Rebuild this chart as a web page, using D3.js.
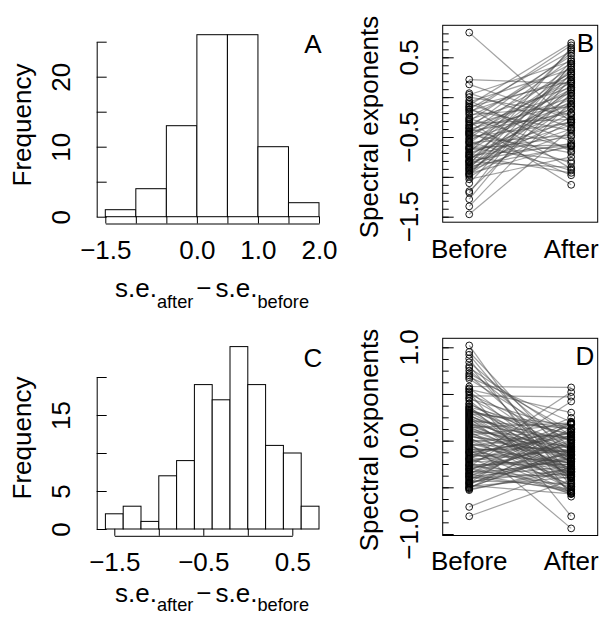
<!DOCTYPE html>
<html>
<head>
<meta charset="utf-8">
<script src="https://cdn.jsdelivr.net/npm/d3@7"></script>
<style>
  body { margin: 0; background: #fff; }
  svg text { font-family: "Liberation Sans", Arial, Helvetica, sans-serif; fill: #000; }
</style>
</head>
<body>
<svg id="fig" width="599" height="617"></svg>
<script>
// ---- Histogram A: change in spectral exponent (first condition) ----
const binEdgesA = [-1.5, -1.0, -0.5, 0.0, 0.5, 1.0, 1.5, 2.0];
const countsA   = [1, 4, 13, 26, 26, 10, 2];
const xTicksA   = [-1.5, -1.0, -0.5, 0.0, 0.5, 1.0, 1.5, 2.0];
const xLabelsA  = ["−1.5", "", "", "0.0", "", "1.0", "", "2.0"];
const yTicksA   = [0, 5, 10, 15, 20, 25];
const yLabelsA  = ["0", "", "10", "", "20", ""];

// ---- Histogram C: change in spectral exponent (second condition) ----
const binEdgesC = [-1.6, -1.4, -1.2, -1.0, -0.8, -0.6, -0.4, -0.2, 0.0, 0.2, 0.4, 0.6, 0.8];
const countsC   = [2, 3, 1, 7, 9, 19, 17, 24, 19, 11, 10, 3];
const xTicksC   = [-1.5, -1.0, -0.5, 0.0, 0.5];
const xLabelsC  = ["−1.5", "", "−0.5", "", "0.5"];
const yTicksC   = [0, 5, 10, 15, 20];
const yLabelsC  = ["0", "5", "", "15", ""];

// ---- Paired exponents B ----
const beforeB = [-1.20,-1.28,-1.47,-1.37,-1.18,-1.08,-0.98,-0.95,-0.90,-0.85,-0.80,-0.70,
  -1.00,-0.97,-0.93,-0.90,-0.88,-0.85,-0.82,-0.78,-0.75,-0.72,-0.68,-0.65,-0.62,-0.58,-0.55,
  -0.52,-0.48,-0.45,-0.42,-0.38,-0.35,-0.30,-0.25,-0.20,-0.15,-0.10,
  -1.03,-0.96,-0.92,-0.87,-0.83,-0.80,-0.76,-0.73,-0.70,-0.66,-0.63,-0.60,-0.57,-0.53,-0.50,
  -0.46,-0.43,-0.40,-0.36,-0.33,-0.28,-0.22,-0.18,-0.12,-0.06,0.03,
  0.22,0.16,0.05,0.00,-0.08,-0.16,-0.27,-0.39,-0.47,-0.56,-0.64,-0.74,-0.81,
  -0.04,-0.13,-0.31,-0.44,0.81];
const afterB = [0.42,0.25,-0.40,-0.05,0.05,0.30,0.40,0.12,0.45,0.62,0.35,0.60,
  -0.30,-0.10,0.02,-0.25,0.08,-0.20,0.10,-0.05,0.20,-0.15,0.15,0.28,-0.02,0.32,0.10,
  0.38,0.22,0.48,0.18,0.55,0.30,0.52,0.42,0.65,0.58,0.68,
  -0.75,-0.60,-0.45,-0.62,-0.40,-0.58,-0.35,-0.61,-0.30,-0.50,-0.60,-0.15,-0.48,-0.10,-0.32,
  0.00,-0.20,-0.08,0.05,-0.28,0.12,-0.12,0.25,0.20,0.35,0.45,
  0.17,-0.28,-0.38,-0.22,-0.55,-0.42,-0.65,-0.83,-0.70,-0.92,-0.80,-0.95,-0.88,
  -0.68,-0.90,-1.10,-0.98,-0.32];

// ---- Paired exponents D ----
const beforeD = [1.02,0.95,0.92,0.88,0.84,0.80,0.78,0.75,0.72,0.70,0.68,0.66,
  0.58,0.56,0.55,0.53,0.52,0.50,0.48,0.46,0.45,0.43,
  -0.71,-0.81,
  0.40,0.39,0.37,0.36,0.35,0.34,0.33,0.32,0.31,0.30,0.29,0.28,0.27,0.26,0.25,0.24,0.23,0.22,
  0.21,0.20,0.19,0.18,0.17,0.16,0.15,0.14,0.13,0.12,0.11,0.10,0.09,0.08,0.07,0.06,0.05,0.04,
  0.03,0.02,0.01,0.00,-0.01,-0.02,-0.03,-0.04,-0.05,-0.06,-0.07,-0.08,-0.09,-0.10,-0.11,-0.12,
  -0.13,-0.14,-0.15,-0.16,-0.17,-0.18,-0.19,-0.20,-0.21,-0.22,-0.23,-0.24,-0.25,-0.26,-0.27,
  -0.28,-0.29,-0.30,-0.31,-0.32,-0.33,-0.34,-0.35,-0.36,-0.37,-0.38,-0.39,-0.40,-0.41,-0.42,
  -0.43,-0.44,-0.45,-0.46,-0.47,-0.48,-0.49,-0.50,-0.51,-0.52,-0.53,
  -0.125,-0.265,-0.385,-0.305,-0.455,-0.195,-0.355,-0.505];
const afterD = [-0.50,-0.20,-0.38,-0.60,-0.08,-0.45,0.05,-0.12,0.10,-0.25,0.20,-0.02,
  0.57,-0.20,0.30,-0.33,-0.81,0.00,0.47,-0.15,0.12,-0.40,
  -0.28,-0.42,
  -0.22,-0.06,-0.55,0.06,-0.20,-0.36,-0.08,0.07,0.12,-0.22,0.17,-0.38,-0.19,-0.09,-0.33,-0.54,
  0.01,-0.22,0.13,-0.37,-0.12,-0.30,0.02,-0.22,-0.38,0.19,-0.14,-0.30,-0.07,-0.49,0.04,-0.25,
  -0.40,0.18,-0.16,-0.06,-0.52,-0.34,-0.13,-0.43,0.07,-0.94,-0.31,-0.10,-0.55,0.09,-0.24,-0.47,
  -0.11,-0.07,-0.56,-0.24,0.05,-0.38,-0.23,0.09,-0.11,-0.34,-0.57,0.52,-0.10,-0.26,0.09,-0.57,
  0.20,-0.25,-0.38,0.42,-0.15,-0.49,-0.04,0.18,-0.40,-0.25,0.01,-0.54,-0.20,0.04,-0.52,-0.36,
  -0.19,0.13,-0.46,-0.31,0.20,-0.16,0.00,-0.57,-0.39,-0.12,0.07,-0.33,-0.29,
  0.035,-0.195,-0.275,-0.025,-0.115,0.245,0.175,-0.095];

const conditions = ["Before", "After"];
const yLabelValsB = [-1.5, -0.5, 0.5];
const yLabelTextB = ["−1.5", "−0.5", "0.5"];
const yLabelValsD = [-1.0, 0.0, 1.0];
const yLabelTextD = ["−1.0", "0.0", "1.0"];

const FS = 26;      // main text size
const svg = d3.select("#fig");

// ---------- helpers ----------
function histogram(g, edges, counts, x, y) {
  g.selectAll("rect.bar").data(counts).join("rect")
    .attr("class", "bar")
    .attr("x", (d, i) => x(edges[i]))
    .attr("width", (d, i) => x(edges[i + 1]) - x(edges[i]))
    .attr("y", d => y(d))
    .attr("height", d => y(0) - y(d))
    .attr("fill", "#fff").attr("stroke", "#000").attr("stroke-width", 1);
}

function styleAxis(g) {
  g.attr("font-family", null).attr("font-size", null);
  g.selectAll("path, line").attr("stroke", "#000").attr("stroke-width", 1);
}

function xAxisHist(g, x, ticks, labels, yPos) {
  g.attr("transform", `translate(0,${yPos})`)
    .call(d3.axisBottom(x).tickValues(ticks).tickSizeInner(-7).tickSizeOuter(0)
      .tickFormat((d, i) => labels[i]))
    .call(styleAxis)
    .call(a => a.selectAll("text").attr("y", 35).attr("dy", null)
      .style("font-size", FS + "px"));
}

function yAxisHist(g, y, ticks, labels, xPos) {
  g.attr("transform", `translate(${xPos},0)`)
    .call(d3.axisLeft(y).tickValues(ticks).tickSizeInner(-10).tickSizeOuter(0)
      .tickFormat((d, i) => labels[i]))
    .call(styleAxis)
    .call(a => a.selectAll("text")
      .attr("x", null).attr("dy", null)
      .attr("text-anchor", "middle")
      .attr("transform", "translate(-27,0) rotate(-90)")
      .style("font-size", FS + "px"));
}

// axis title s.e._after − s.e._before with lowered subscripts
function xTitle(g, cx, baseline, drop) {
  const t = g.append("text").attr("x", cx).attr("y", baseline)
    .attr("text-anchor", "middle").style("font-size", FS + "px");
  t.append("tspan").text("s.e.");
  t.append("tspan").attr("dy", drop).style("font-size", (FS * 0.7) + "px").text("after");
  t.append("tspan").attr("dy", -drop).attr("dx", 3).text("−");
  t.append("tspan").attr("dx", 4).text("s.e.");
  t.append("tspan").attr("dy", drop).style("font-size", (FS * 0.7) + "px").text("before");
}

function rotLabel(g, text, x, y) {
  g.append("text").attr("transform", `translate(${x},${y}) rotate(-90)`)
    .attr("text-anchor", "middle").style("font-size", FS + "px").text(text);
}

function panelLetter(g, text, x, y) {
  g.append("text").attr("x", x).attr("y", y).attr("text-anchor", "middle")
    .style("font-size", FS + "px").text(text);
}

function pairedPanel(g, before, after, y, box, minorStep, yMin, yMax, labelVals, labelText) {
  const x = d3.scalePoint().domain(conditions).range([box.x0, box.x1]).padding(0.26);

  // inward minor and major ticks on the left edge
  const minor = d3.range(Math.round(yMin / minorStep), Math.round(yMax / minorStep) + 1)
    .map(i => +(i * minorStep).toFixed(4));
  const major = minor.filter(v => Math.abs(v * 2 - Math.round(v * 2)) < 1e-6);
  g.append("g").attr("transform", `translate(${box.x0},0)`)
    .call(d3.axisLeft(y).tickValues(minor).tickSizeInner(-6).tickSizeOuter(0).tickFormat(""))
    .call(styleAxis).call(a => a.select(".domain").remove());
  g.append("g").attr("transform", `translate(${box.x0},0)`)
    .call(d3.axisLeft(y).tickValues(major).tickSizeInner(-11).tickSizeOuter(0).tickFormat(""))
    .call(styleAxis).call(a => a.select(".domain").remove());

  // tick labels
  labelVals.forEach((v, i) => {
    g.append("text").attr("transform", `translate(${box.x0 - 24.5},${y(v)}) rotate(-90)`)
      .attr("text-anchor", "middle").style("font-size", FS + "px").text(labelText[i]);
  });

  // connecting lines
  const pairs = before.map((b, i) => ({ b, a: after[i] }));
  g.append("g").selectAll("line").data(pairs).join("line")
    .attr("x1", x("Before")).attr("x2", x("After"))
    .attr("y1", d => y(d.b)).attr("y2", d => y(d.a))
    .attr("stroke", "rgba(70,70,70,0.5)").attr("stroke-width", 1.2);

  // points
  const pts = g.append("g").attr("fill", "none").attr("stroke", "#000").attr("stroke-width", 0.9);
  pts.selectAll("circle.b").data(before).join("circle").attr("class", "b")
    .attr("cx", x("Before")).attr("cy", d => y(d)).attr("r", 3.4);
  pts.selectAll("circle.a").data(after).join("circle").attr("class", "a")
    .attr("cx", x("After")).attr("cy", d => y(d)).attr("r", 3.4);

  // frame
  g.append("rect").attr("x", box.x0).attr("y", box.y0)
    .attr("width", box.x1 - box.x0).attr("height", box.y1 - box.y0)
    .attr("fill", "none").attr("stroke", "#000").attr("stroke-width", 1);

  // category labels
  conditions.forEach(c => {
    g.append("text").attr("x", x(c)).attr("y", box.labelY).attr("text-anchor", "middle")
      .style("font-size", FS + "px").text(c);
  });
}

// ---------- Panel A ----------
{
  const g = svg.append("g");
  const x = d3.scaleLinear().domain([-1.5, 2.0]).range([105.3, 319]);
  const y = d3.scaleLinear().domain([0, 25]).range([216.7, 41.7]);
  histogram(g, binEdgesA, countsA, x, y);
  g.append("g").call(a => xAxisHist(a, x, xTicksA, xLabelsA, 223.5));
  g.append("g").call(a => yAxisHist(a, y, yTicksA, yLabelsA, 96.7));
  xTitle(g, 212, 297, 11);
  rotLabel(g, "Frequency", 31, 125);
  panelLetter(g, "A", 313, 53);
}

// ---------- Panel B ----------
{
  const g = svg.append("g");
  const y = d3.scaleLinear().domain([-1.5, 0.5]).range([216.7, 57.3]);
  pairedPanel(g, beforeB, afterB, y,
    { x0: 442.7, x1: 597.7, y0: 25.3, y1: 222.2, labelY: 258 },
    0.1, -1.5, 0.8, yLabelValsB, yLabelTextB);
  rotLabel(g, "Spectral exponents", 378, 127);
  panelLetter(g, "B", 585.5, 52);
}

// ---------- Panel C ----------
{
  const g = svg.append("g");
  const x = d3.scaleLinear().domain([-1.5, 0.5]).range([114.3, 292.3]);
  const y = d3.scaleLinear().domain([0, 20]).range([529, 377]);
  histogram(g, binEdgesC, countsC, x, y);
  g.append("g").call(a => xAxisHist(a, x, xTicksC, xLabelsC, 535.8));
  g.append("g").call(a => yAxisHist(a, y, yTicksC, yLabelsC, 96.7));
  xTitle(g, 212, 602, 9);
  rotLabel(g, "Frequency", 31, 438);
  panelLetter(g, "C", 313, 367);
}

// ---------- Panel D ----------
{
  const g = svg.append("g");
  const y = d3.scaleLinear().domain([-1.0, 1.0]).range([534, 347.3]);
  pairedPanel(g, beforeD, afterD, y,
    { x0: 442.7, x1: 597.7, y0: 338.3, y1: 535.5, labelY: 570 },
    0.125, -1.0, 1.0, yLabelValsD, yLabelTextD);
  rotLabel(g, "Spectral exponents", 378, 440);
  panelLetter(g, "D", 585, 365);
}
</script>
</body>
</html>
